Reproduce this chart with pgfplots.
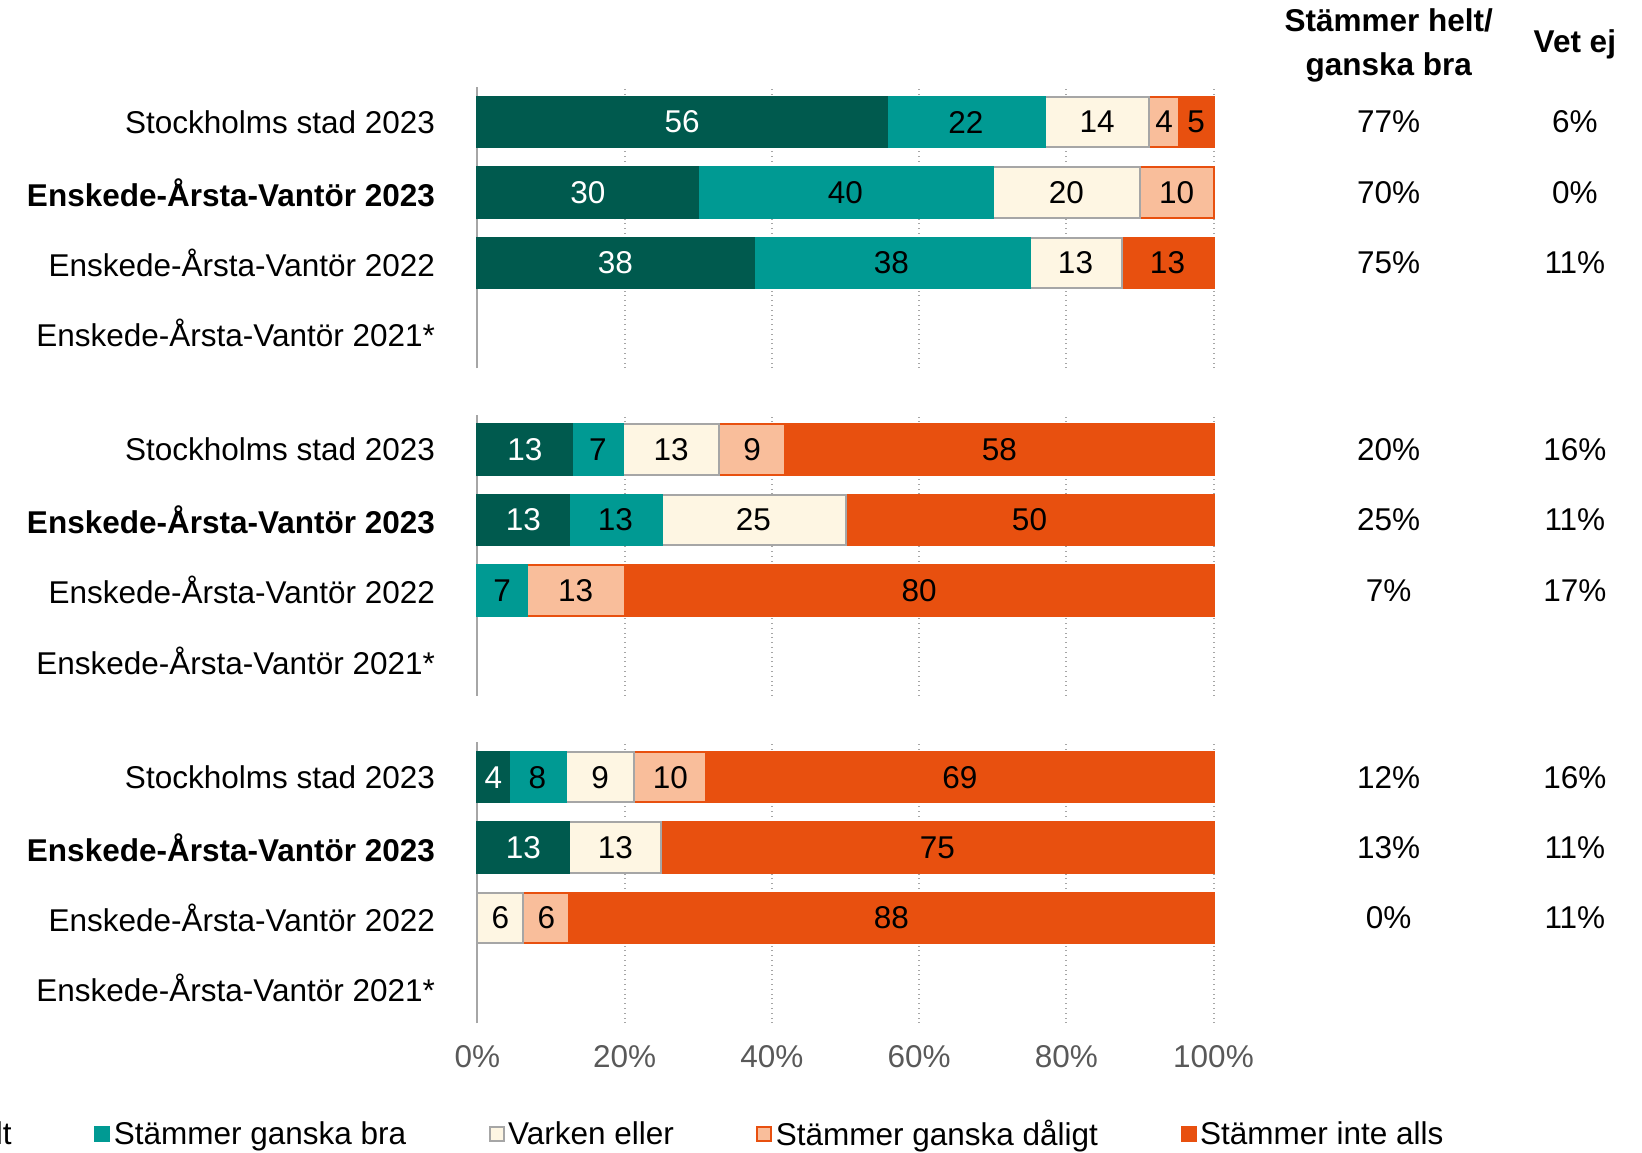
\documentclass[border=0pt]{standalone}
\usepackage{pgfplots}
\pgfplotsset{compat=1.18}
\usepackage{pgfplotstable}
\usepackage{fontspec}
\setmainfont{Liberation Sans}

\definecolor{helt}{HTML}{005A4E}
\definecolor{ganska}{HTML}{009A93}
\definecolor{varken}{HTML}{FEF6E3}
\definecolor{varkenb}{HTML}{A6A6A6}
\definecolor{daligt}{HTML}{F9BE9B}
\definecolor{inte}{HTML}{E8500F}
\definecolor{gridc}{HTML}{A6A6A6}
\definecolor{tickc}{HTML}{595959}

% y: 4 = Stockholms stad 2023, 3 = EÅV 2023, 2 = EÅV 2022 (2021* has no data)
\pgfplotstableread{
y helt ganska varken daligt inte
4 55.6 21.5 14.2 4.0 4.7
3 30   40   20   10  0
2 37.5 37.5 12.5 0   12.5
}\groupA
\pgfplotstableread{
y helt ganska varken daligt inte
4 12.9 6.9  13.0 9.0   58.2
3 12.5 12.5 25   0     50
2 0    6.67 0    13.33 80
}\groupB
\pgfplotstableread{
y helt ganska varken daligt inte
4 4.3  7.7 9.3  9.8  68.9
3 12.5 0   12.5 0    75
2 0    0   6.25 6.25 87.5
}\groupC

\newcommand{\fs}{\fontsize{15.75}{18.9}\selectfont}

\pgfplotsset{
  seg/.style={
    visualization depends on={\thisrow{#1} \as \val},
    nodes near coords={\ifdim\val pt>0pt \pgfmathprintnumber[fixed,precision=0,assume math mode=true]{\val}\fi},
    every node near coord/.append style={anchor=center, font=\fs, inner sep=0pt},
  },
  sq/.style={legend image code/.code={\draw[##1,line width=1pt] (0pt,-3.5pt) rectangle (7pt,3.5pt);}},
  block/.style={
    xbar stacked,
    x=3.68pt, y=35.15pt,
    xmin=0, xmax=100, ymin=0.5, ymax=4.5,
    bar width=25.25pt,
    axis lines*=left,
    x axis line style={draw=none},
    y axis line style={draw=gridc, line width=1pt, -},
    ytick={1,2,3,4},
    yticklabels={Enskede-Årsta-Vantör 2021*, Enskede-Årsta-Vantör 2022, \textbf{Enskede-Årsta-Vantör 2023}, Stockholms stad 2023},
    yticklabel style={font=\fs},
    yticklabel shift=17.75pt,
    xtick={0,20,40,60,80,100},
    xticklabels={},
    xmajorgrids,
    major grid style={gridc, dotted, line width=1pt},
    major tick length=0pt,
    clip=false,
    anchor=north west,
  },
}

\begin{document}
\begin{tikzpicture}

% block 1
\begin{axis}[block, at={(0,0)}]
  \addplot[seg=helt, fill=helt, draw=helt, line width=1pt, every node near coord/.append style={text=white}] table[x=helt, y=y] {\groupA};
  \addplot[seg=ganska, fill=ganska, draw=ganska, line width=1pt] table[x=ganska, y=y] {\groupA};
  \addplot[seg=varken, fill=varken, draw=varkenb, line width=1pt] table[x=varken, y=y] {\groupA};
  \addplot[seg=daligt, fill=daligt, draw=inte, line width=1pt] table[x=daligt, y=y] {\groupA};
  \addplot[seg=inte, fill=inte, draw=inte, line width=1pt] table[x=inte, y=y] {\groupA};
  \node[font=\fs\bfseries, align=center, execute at begin node={\setlength{\baselineskip}{22pt}}] at (axis cs:123.8,5.09) {Stämmer helt/\\ganska bra};
  \node[font=\fs\bfseries] at (axis cs:149.1,5.11) {Vet ej};
  \node[font=\fs] at (axis cs:123.8,4) {77\%};
  \node[font=\fs] at (axis cs:149.1,4) {6\%};
  \node[font=\fs] at (axis cs:123.8,3) {70\%};
  \node[font=\fs] at (axis cs:149.1,3) {0\%};
  \node[font=\fs] at (axis cs:123.8,2) {75\%};
  \node[font=\fs] at (axis cs:149.1,2) {11\%};
\end{axis}

% block 2
\begin{axis}[block, at={(0,-163.75pt)}]
  \addplot[seg=helt, fill=helt, draw=helt, line width=1pt, every node near coord/.append style={text=white}] table[x=helt, y=y] {\groupB};
  \addplot[seg=ganska, fill=ganska, draw=ganska, line width=1pt] table[x=ganska, y=y] {\groupB};
  \addplot[seg=varken, fill=varken, draw=varkenb, line width=1pt] table[x=varken, y=y] {\groupB};
  \addplot[seg=daligt, fill=daligt, draw=inte, line width=1pt] table[x=daligt, y=y] {\groupB};
  \addplot[seg=inte, fill=inte, draw=inte, line width=1pt] table[x=inte, y=y] {\groupB};
  \node[font=\fs] at (axis cs:123.8,4) {20\%};
  \node[font=\fs] at (axis cs:149.1,4) {16\%};
  \node[font=\fs] at (axis cs:123.8,3) {25\%};
  \node[font=\fs] at (axis cs:149.1,3) {11\%};
  \node[font=\fs] at (axis cs:123.8,2) {7\%};
  \node[font=\fs] at (axis cs:149.1,2) {17\%};
\end{axis}

% block 3 with x tick labels and legend
\begin{axis}[block, at={(0,-327.5pt)},
    xticklabels={0\%,20\%,40\%,60\%,80\%,100\%},
    xticklabel style={font=\fs, text=tickc},
    xticklabel shift=7.75pt,
    legend columns=-1,
    legend style={draw=none, fill=none, font=\fs, at={(0,0)}, anchor=west,
      xshift=-336.25pt, yshift=-55.5pt, inner sep=0pt, outer sep=0pt,
      nodes={inner xsep=1.75pt, inner ysep=0pt},
      /tikz/every even column/.append style={column sep=39.5pt}},
  ]
  \addplot[sq, seg=helt, fill=helt, draw=helt, line width=1pt, every node near coord/.append style={text=white}] table[x=helt, y=y] {\groupC};
  \addplot[sq, seg=ganska, fill=ganska, draw=ganska, line width=1pt] table[x=ganska, y=y] {\groupC};
  \addplot[sq, seg=varken, fill=varken, draw=varkenb, line width=1pt] table[x=varken, y=y] {\groupC};
  \addplot[sq, seg=daligt, fill=daligt, draw=inte, line width=1pt] table[x=daligt, y=y] {\groupC};
  \addplot[sq, seg=inte, fill=inte, draw=inte, line width=1pt] table[x=inte, y=y] {\groupC};
  \legend{Stämmer helt, Stämmer ganska bra, Varken eller, Stämmer ganska dåligt, Stämmer inte alls}
  \node[font=\fs] at (axis cs:123.8,4) {12\%};
  \node[font=\fs] at (axis cs:149.1,4) {16\%};
  \node[font=\fs] at (axis cs:123.8,3) {13\%};
  \node[font=\fs] at (axis cs:149.1,3) {11\%};
  \node[font=\fs] at (axis cs:123.8,2) {0\%};
  \node[font=\fs] at (axis cs:149.1,2) {11\%};
\end{axis}

\pgfresetboundingbox
\path (-238.75pt,43.5pt) rectangle (582.25pt,-532.5pt);
\end{tikzpicture}
\end{document}
